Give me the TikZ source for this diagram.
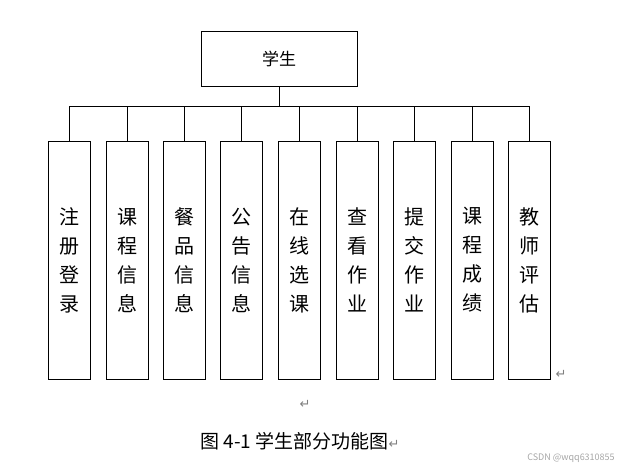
\documentclass[tikz,border=0pt]{standalone}
\usepackage{fontspec}
\setmainfont{Noto Sans CJK SC}
\newfontfamily\symfont{DejaVu Sans}
\usetikzlibrary{positioning}
\begin{document}
\begin{tikzpicture}[x=1pt,y=1pt,
    box/.style={rectangle, draw, thick, minimum width=42pt, minimum height=238pt,
                align=center, inner sep=0pt, font=\fontsize{20}{29}\selectfont},
    topbox/.style={rectangle, draw, thick, minimum width=156pt, minimum height=55pt,
                font=\fontsize{17}{20}\selectfont},
    ln/.style={thick},
    retmark/.style={font=\symfont\fontsize{13}{13}\selectfont, text=gray},
  ]
  \useasboundingbox (0,0) rectangle (644,-470);

  % Top
  \node[topbox] (stu) at (279,-58.5) {学生};
  \coordinate (bus) at (279,-106);

  % Function boxes
  \foreach \i/\x/\t in {1/69/注\\册\\登\\录, 2/127/课\\程\\信\\息, 3/184/餐\\品\\信\\息,
      4/241/公\\告\\信\\息, 5/299/在\\线\\选\\课, 6/357/查\\看\\作\\业,
      7/414/提\\交\\作\\业, 8/472/课\\程\\成\\绩, 9/529/教\\师\\评\\估}{
    \node[box] (f\i) at (\x,-260) {\t};
    \draw[ln] (f\i.north) -- (f\i.north |- bus);
  }
  \draw[ln] (stu.south) -- (bus);
  \draw[ln] (f1.north |- bus) -- (f9.north |- bus);

  % Caption
  \node[retmark] (m1) at (561,-374) {↵};
  \node[retmark] (m2) at (305,-404) {↵};
  \node[font=\fontsize{19}{19}\selectfont] (cap) at (300,-441) {图 4-1 学生部分功能图{\symfont\fontsize{13}{13}\selectfont\textcolor{gray}{↵}}};
  \node[font=\fontsize{9}{9}\selectfont, text=gray!70] (wm) at (571,-458) {CSDN @wqq6310855};
\end{tikzpicture}
\end{document}
